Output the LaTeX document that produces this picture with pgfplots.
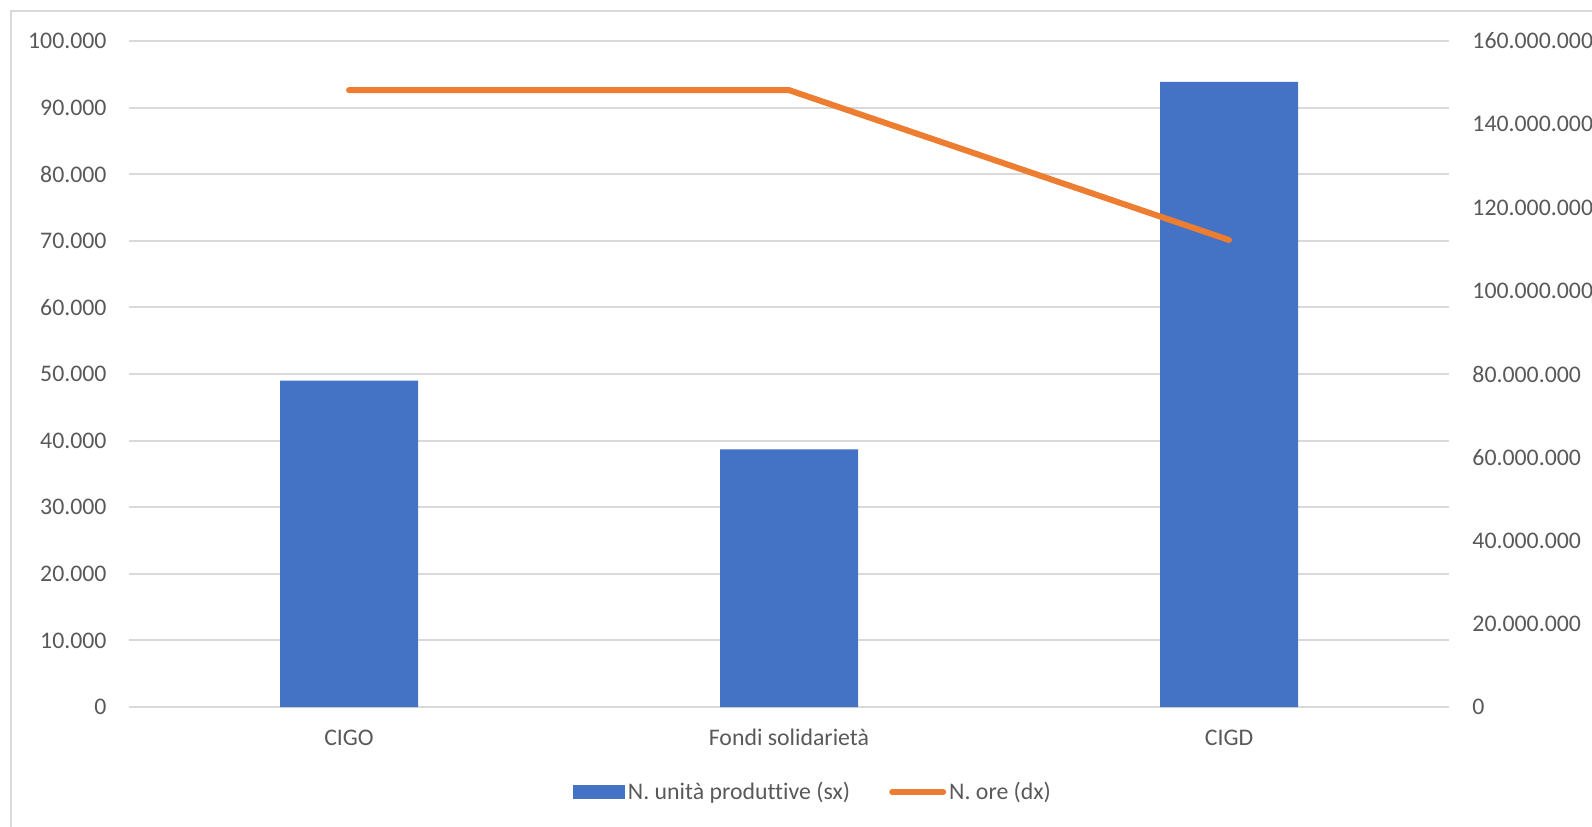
\documentclass[border=0pt]{standalone}
\usepackage{fontspec}
\setmainfont{Carlito}[Ligatures=CommonOff]
\usepackage{pgfplots}
\pgfplotsset{compat=1.18}
\definecolor{barblue}{HTML}{4472C4}
\definecolor{lineorange}{HTML}{ED7D31}
\definecolor{gridgray}{HTML}{D9D9D9}
\definecolor{textgray}{HTML}{595959}

\pgfplotsset{
  base/.style={
    at={(64.5pt,59.5pt)}, anchor=south west,
    width=660pt, height=333pt, scale only axis,
    xmin=-0.5, xmax=2.5,
    axis line style={draw=none},
    major tick length=0pt,
    tick label style={font=\fontsize{11.9pt}{14pt}\selectfont, text=textgray},
    /pgf/number format/.cd, fixed, precision=0, 1000 sep={.}, assume math mode=true,
    /pgfplots/.cd,
    scaled y ticks=false,
  }
}

\begin{document}
\begin{tikzpicture}
\useasboundingbox (0,0) rectangle (796pt,413pt);
% chart frame (only left and top edges are in view)
\draw[gridgray, line width=1pt] (5.5pt,-2pt) -- (5.5pt,407.5pt) -- (800pt,407.5pt);

\begin{axis}[base,
  ymin=0, ymax=100000, ytick distance=10000,
  ymajorgrids, grid style={gridgray, line width=1pt},
  xtick={0,1,2}, xticklabels={CIGO, Fondi solidarietà, CIGD},
  xticklabel style={anchor=base, yshift=-19.3pt},
  yticklabel style={anchor=east, xshift=-7.7pt},
]
\addplot[ybar, bar width=69pt, fill=barblue, draw=none]
  coordinates {(0,49000) (1,38700) (2,93850)};
\end{axis}

\begin{axis}[base,
  ymin=0, ymax=160000000, ytick distance=20000000,
  axis y line*=right, hide x axis,
  yticklabel style={anchor=west, xshift=8.2pt},
  legend columns=2,
  legend style={at={(axis description cs:0.5186,-0.1276)}, anchor=center,
    draw=none, fill=none, text=textgray,
    font=\fontsize{11.9pt}{14pt}\selectfont,
    /tikz/every even column/.append style={column sep=18pt},
    nodes={inner sep=1.5pt}},
]
\addlegendimage{legend image code/.code={\fill[barblue] (0pt,-3.25pt) rectangle (25.5pt,3.25pt);}}
\addlegendentry{N. unità produttive (sx)}
\addplot[lineorange, line width=3pt, line cap=round, line join=round,
  legend image code/.code={\draw[lineorange, line width=3pt, line cap=round] (1.5pt,0pt) -- (27pt,0pt);}]
  coordinates {(0,148200000) (1,148200000) (2,112200000)};
\addlegendentry{N. ore (dx)}
\end{axis}
\end{tikzpicture}
\end{document}
